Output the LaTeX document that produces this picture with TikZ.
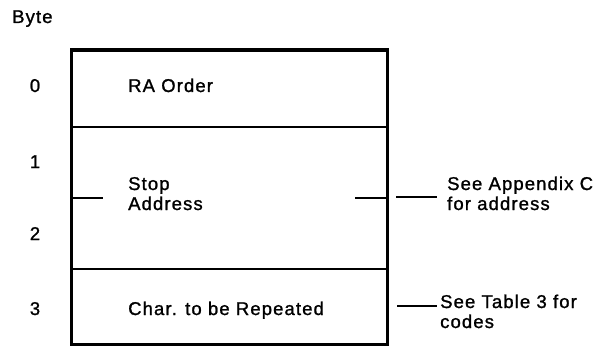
\documentclass[tikz,border=0pt]{standalone}
\usepackage{fontspec}
\setmainfont[LetterSpace=6,FakeBold=1.2]{Liberation Sans}
\usetikzlibrary{positioning}

\begin{document}
\begin{tikzpicture}[x=1pt,y=1pt,
    field/.style={draw,line width=1.8pt,rectangle,minimum width=315pt,
        inner sep=0pt,anchor=north west},
    frame/.style={line width=3pt},
    tick/.style={line width=1.8pt},
    txt/.style={font=\fontsize{18.5}{20}\selectfont,inner sep=0pt,anchor=base west},
    byte num/.style={font=\fontsize{18.5}{20}\selectfont,inner sep=0pt,anchor=base}
]
    \useasboundingbox (0,0) rectangle (597,346);

    \node[txt] (byte) at (12,323) {Byte};

    % the three fields of the order
    \node[field,minimum height=76pt] (ra) at (71,296) {};
    \node[field,minimum height=142pt] (sa) at (71,220) {};
    \node[field,minimum height=75pt] (chr) at (71,78) {};
    \draw[frame] (ra.north west) rectangle (chr.south east);

    \foreach \n/\y in {0/254,1/178,2/106,3/31} {
        \node[byte num] (b\n) at (35,\y) {\n};
    }

    \node[txt] (ra-text) at (128,254) {RA Order};
    \node[txt] (stop-text) at (128,156) {Stop};
    \node[txt] (addr-text) at (128,136) {Address};
    \node[txt] (chr-text) at (128,31) {Char. to be Repeated};

    \draw[tick] (sa.west) -- ++(32,0);
    \draw[tick] (sa.east) -- ++(-33,0);

    % notes on the right
    \coordinate (app-tick) at (396,149);
    \coordinate (tab-tick) at (397,40);
    \node[txt] (app1) at (447,156) {See Appendix C};
    \node[txt] (app2) at (447,136) {for address};
    \node[txt] (tab1) at (440,38) {See Table 3 for};
    \node[txt] (tab2) at (440,18) {codes};
    \draw[tick] (app-tick) -- ++(41,0);
    \draw[tick] (tab-tick) -- ++(40,0);

\end{tikzpicture}
\end{document}
